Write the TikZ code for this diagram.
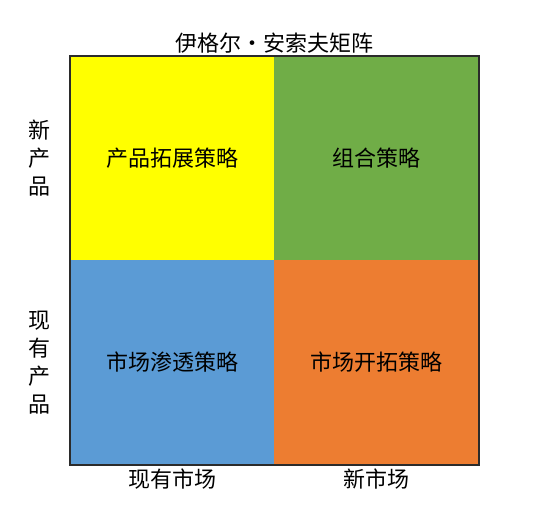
\documentclass[tikz,border=0pt]{standalone}
\usepackage{fontspec}
\setmainfont{Noto Sans CJK SC}
\usetikzlibrary{positioning}
\definecolor{cellyellow}{HTML}{FFFF00}
\definecolor{cellgreen}{HTML}{70AD47}
\definecolor{cellblue}{HTML}{5B9BD5}
\definecolor{cellorange}{HTML}{ED7D31}
\definecolor{framegray}{HTML}{2B2B2B}
\tikzset{
    quad/.style = {rectangle, minimum width=204pt, minimum height=204pt, inner sep=0pt},
    frame/.style = {draw=framegray, line width=1.8pt},
    axislabel/.style = {align=center, inner sep=2pt}}

\begin{document}
\begin{tikzpicture}[x=1pt, y=-1pt, node distance=0pt,
    font=\fontsize{22}{28}\selectfont
    ]
    \useasboundingbox (0,0) rectangle (560,516);
    \node (PE) [quad, fill=cellyellow] at (172,158) {产品拓展策略};
    \node (DV) [quad, fill=cellgreen, right = of PE] {组合策略};
    \node (MP) [quad, fill=cellblue, below = of PE] {市场渗透策略};
    \node (MD) [quad, fill=cellorange, right = of MP] {市场开拓策略};
    \draw [frame] (PE.north west) rectangle (MD.south east);
    \node (T) [axislabel, above = 0pt of PE.north east] {伊格尔・安索夫矩阵};
    \node (NP) [axislabel, left = 17pt of PE] {新\\产\\品};
    \node (EP) [axislabel, left = 17pt of MP] {现\\有\\产\\品};
    \node (EM) [axislabel, below = 2pt of MP] {现有市场};
    \node (NM) [axislabel, below = 2pt of MD] {新市场};
\end{tikzpicture}
\end{document}
